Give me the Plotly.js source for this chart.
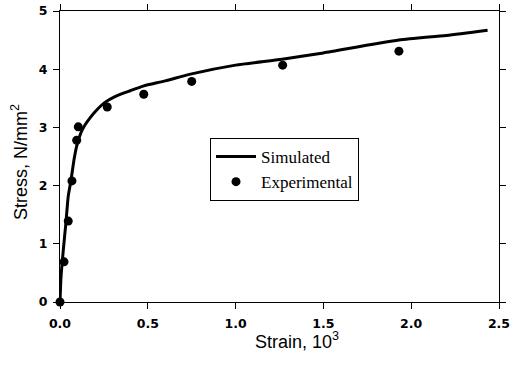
<!DOCTYPE html>
<html>
<head>
<meta charset="utf-8">
<script src="https://cdn.plot.ly/plotly-3.0.1.min.js"></script>
<style>html,body{margin:0;padding:0;background:#fff;}#chart{width:519px;height:369px;}</style>
</head>
<body>
<div id="chart"></div>
<script>
// Simulated curve (strain x10^3, stress N/mm2)
const simStrain = [0, 0.006, 0.019, 0.034, 0.047, 0.063, 0.08, 0.095, 0.118, 0.142, 0.17, 0.2, 0.256, 0.313, 0.4, 0.474, 0.6, 0.75, 1.0, 1.265, 1.5, 1.93, 2.2, 2.435];
const simStress = [0, 0.44, 0.9, 1.37, 1.82, 2.1, 2.45, 2.68, 2.9, 3.04, 3.16, 3.27, 3.43, 3.53, 3.63, 3.71, 3.8, 3.92, 4.07, 4.17, 4.28, 4.5, 4.58, 4.67];
// Experimental points
const expStrain = [0, 0.023, 0.047, 0.068, 0.095, 0.104, 0.269, 0.477, 0.75, 1.268, 1.93];
const expStress = [0, 0.69, 1.39, 2.08, 2.78, 3.01, 3.35, 3.57, 3.79, 4.07, 4.31];
const xTitle = 'Strain, 10<sup>3</sup>';
const yTitle = 'Stress, N/mm<sup>2</sup>';
const seriesNames = ['Simulated', 'Experimental'];

const tickFont = {family: 'DejaVu Sans', size: 12.5, color: '#000', weight: 'bold'};
const titleFont = {family: 'Liberation Sans, Arial, sans-serif', size: 18, color: '#000'};

const traces = [
  {x: simStrain, y: simStress, type: 'scatter', mode: 'lines', name: seriesNames[0],
   line: {color: '#000', width: 3, shape: 'spline', smoothing: 0.6}, cliponaxis: false},
  {x: expStrain, y: expStress, type: 'scatter', mode: 'markers', name: seriesNames[1],
   marker: {color: '#000', size: 9}, cliponaxis: false}
];

// helper axes that draw the inner halves of the ticks (free axes just inside the frame)
const innerX = 6 / 291, innerY = 4 / 439;
const tickAxis = (extra) => Object.assign({
  ticks: 'outside', tickwidth: 1, tickcolor: '#000', showline: false,
  showgrid: false, zeroline: false, showticklabels: false, anchor: 'free'}, extra);

const layout = {
  width: 519, height: 369,
  margin: {l: 60, r: 20, t: 11, b: 67, pad: 0},
  paper_bgcolor: '#fff', plot_bgcolor: '#fff',
  showlegend: true,
  legend: {x: 0.3417, y: 0.5636, xanchor: 'left', yanchor: 'top',
    bgcolor: '#fff', bordercolor: '#000', borderwidth: 1,
    font: {family: 'Liberation Serif, Times New Roman, serif', size: 17, color: '#000'},
    itemwidth: 40, tracegroupgap: 0},
  xaxis: {range: [0, 2.5], tick0: 0, dtick: 0.5, tickformat: '.1f',
    ticks: 'outside', ticklen: 6, tickwidth: 1, tickcolor: '#000',
    showline: true, linecolor: '#000', linewidth: 1, mirror: 'allticks',
    showgrid: false, zeroline: false, tickfont: tickFont, ticklabelstandoff: 4},
  yaxis: {range: [0, 5], tick0: 0, dtick: 1,
    ticks: 'outside', ticklen: 6, tickwidth: 1, tickcolor: '#000',
    showline: true, linecolor: '#000', linewidth: 1, mirror: 'allticks',
    showgrid: false, zeroline: false, tickfont: tickFont, ticklabelstandoff: 3},
  xaxis3: tickAxis({overlaying: 'x', range: [0, 2.5], tick0: 0, dtick: 0.5, ticklen: 6, side: 'bottom', position: innerX}),
  xaxis4: tickAxis({overlaying: 'x', range: [0, 2.5], tick0: 0, dtick: 0.5, ticklen: 6, side: 'top', position: 1 - innerX}),
  yaxis3: tickAxis({overlaying: 'y', range: [0, 5], tick0: 0, dtick: 0.2, ticklen: 4, side: 'left', position: innerY}),
  yaxis4: tickAxis({overlaying: 'y', range: [0, 5], tick0: 0, dtick: 0.2, ticklen: 4, side: 'right', position: 1 - innerY}),
  annotations: [
    {text: xTitle, xref: 'paper', yref: 'paper', x: 0.541, y: -0.1306,
     xanchor: 'center', yanchor: 'middle', showarrow: false, font: titleFont},
    {text: yTitle, xref: 'paper', yref: 'paper', x: -0.0934, y: 0.481, textangle: -90,
     xanchor: 'center', yanchor: 'middle', showarrow: false, font: titleFont}
  ]
};

Plotly.newPlot('chart', traces, layout, {displayModeBar: false, staticPlot: true});
</script>
</body>
</html>
